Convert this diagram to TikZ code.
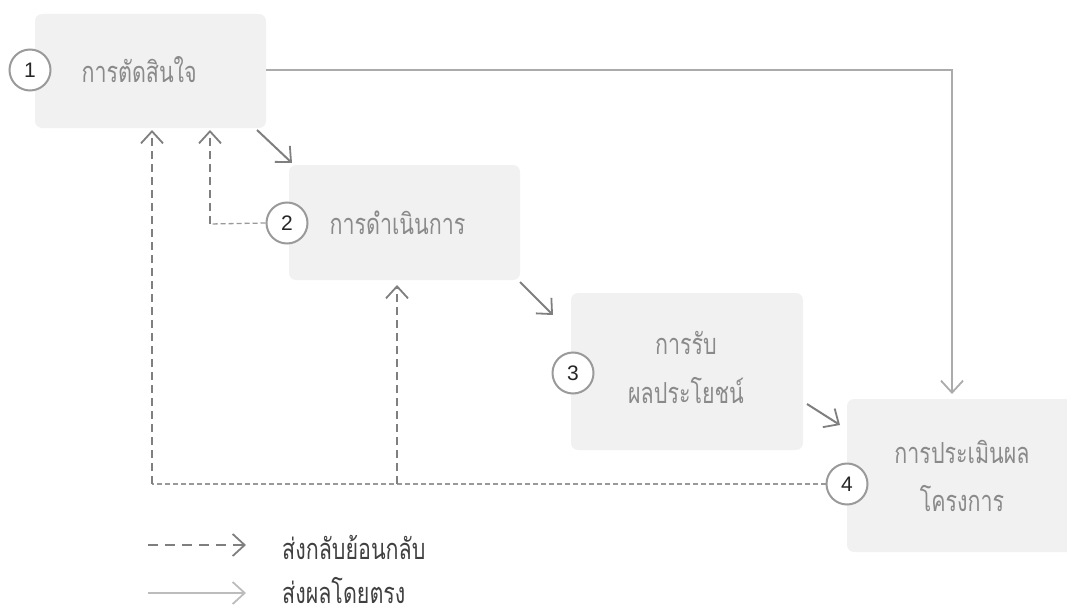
\documentclass[tikz,border=0pt]{standalone}
\usepackage{fontspec}
\setmainfont{Loma}[Script=Thai]
\newfontfamily\thaifont[Script=Thai,FakeStretch=0.74]{Loma}
\newfontfamily\numfont{Liberation Sans}
\usetikzlibrary{arrows.meta}
\definecolor{boxfill}{HTML}{F1F1F1}
\definecolor{txtgray}{HTML}{8A8A8A}
\definecolor{linegray}{HTML}{7F7F7F}
\definecolor{lightline}{HTML}{ABABAB}
\definecolor{circgray}{HTML}{9A9A9A}
\tikzset{
  stagebox/.style={fill=boxfill, rounded corners=7pt, draw=none},
  stagetext/.style={text=txtgray, font=\thaifont\fontsize{29}{50}\selectfont, align=center},
  legtext/.style={text=black!75, font=\thaifont\fontsize{29}{32}\selectfont, anchor=west, inner sep=0pt, text depth=0pt},
  numcirc/.style={circle, draw=circgray, line width=2pt, fill=white, minimum size=41pt, inner sep=0pt, font=\numfont\fontsize{21}{24}\selectfont, text=black!85},
  tip/.style={-{Straight Barb[length=12pt,width=22pt,line width=1.8pt]}},
  flowarrow/.style={tip, draw=linegray, line width=2pt},
  directline/.style={draw=lightline, line width=1.3pt},
  fbvert/.style={draw=linegray, line width=2pt, dash pattern=on 8pt off 5pt},
  fbhoriz/.style={draw=linegray!80, line width=1.3pt, dash pattern=on 5pt off 3pt},
}
\begin{document}
\begin{tikzpicture}[x=1pt,y=-1pt]
\useasboundingbox (0,0) rectangle (1067,607);
% boxes
\node[stagebox, minimum width=231pt, minimum height=114pt] (b1) at (150.5,71) {};
\node[stagebox, minimum width=231pt, minimum height=115pt] (b2) at (404.5,222.5) {};
\node[stagebox, minimum width=232pt, minimum height=157pt] (b3) at (687,371.5) {};
\node[stagebox, minimum width=240pt, minimum height=153pt] (b4) at (967,475.5) {};
% texts
\node[stagetext, anchor=west] (t1) at (78,70) {การตัดสินใจ};
\node[stagetext, anchor=west] (t2) at (326,223) {การดำเนินการ};
\node[stagetext] (t3a) at (686,343) {การรับ};
\node[stagetext] (t3b) at (686,391) {ผลประโยชน์};
\node[stagetext] (t4a) at (962,452) {การประเมินผล};
\node[stagetext] (t4b) at (962,499) {โครงการ};
% direct line 1 -> 4
\coordinate (dcorner) at (952,70);
\draw[directline, tip] (b1.east |- 0,70) -- (dcorner) -- (952,394);
% flow arrows
\coordinate (a1s) at (257,130); \coordinate (a1e) at (292,163);
\coordinate (a2s) at (520,282); \coordinate (a2e) at (553,315);
\coordinate (a3s) at (807,404); \coordinate (a3e) at (840,425);
\draw[flowarrow] (a1s) -- (a1e);
\draw[flowarrow] (a2s) -- (a2e);
\draw[flowarrow] (a3s) -- (a3e);
% circles
\node[numcirc] (c1) at (30,70) {1};
\node[numcirc] (c2) at (287,223) {2};
\node[numcirc] (c3) at (573,373) {3};
\node[numcirc] (c4) at (847,484) {4};
% feedback from 2 to 1
\coordinate (f2c) at (210,224);
\draw[fbhoriz] (c2.west) -- (f2c);
\draw[fbvert, tip] (f2c) -- (210,130);
% feedback from 4
\coordinate (f4l) at (152,484);
\coordinate (f4m) at (397,484);
\draw[fbhoriz] (c4.west) -- (f4l);
\draw[fbvert, tip] (f4l) -- (152,130);
\draw[fbvert, tip] (f4m) -- (397,285);
% legend
\coordinate (l1s) at (148,545); \coordinate (l1e) at (246,545);
\coordinate (l2s) at (148,593); \coordinate (l2e) at (246,593);
\draw[draw=linegray, line width=2pt, dash pattern=on 10pt off 7pt, tip] (l1s) -- (l1e);
\draw[draw=lightline!80, line width=2pt, tip] (l2s) -- (l2e);
\node[legtext] (lt1) at (282,547) {ส่งกลับย้อนกลับ};
\node[legtext] (lt2) at (282,590) {ส่งผลโดยตรง};
\end{tikzpicture}
\end{document}
